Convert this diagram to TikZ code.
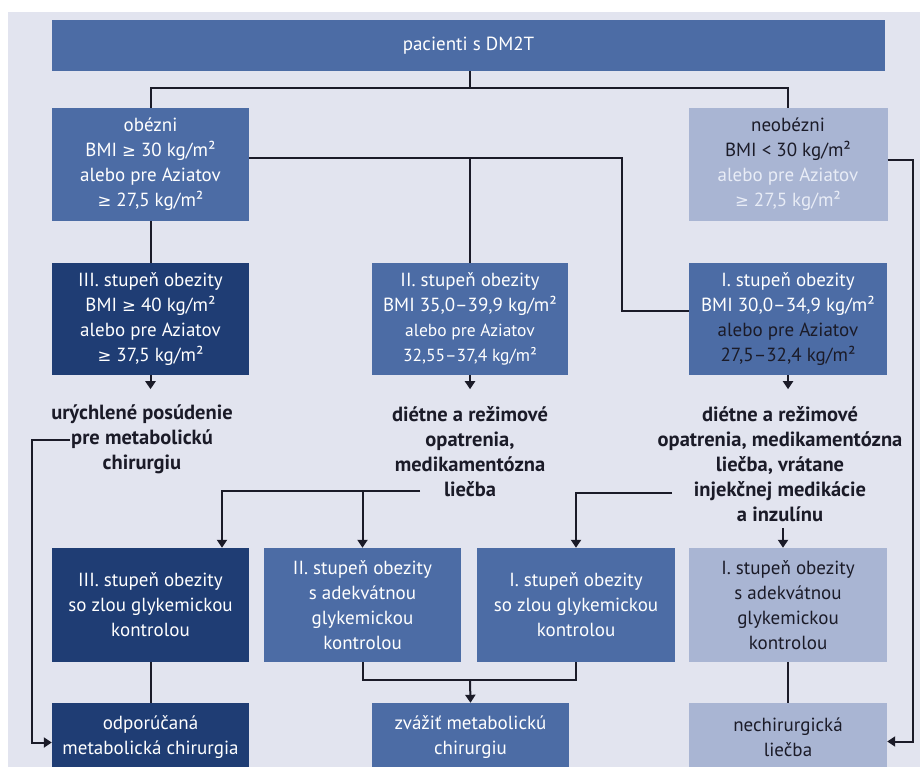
\documentclass[tikz,border=0pt]{standalone}
\usepackage{fontspec}
\setmainfont{PT Sans}
\newfontfamily\symf{DejaVu Sans}
\newcommand\mygeq{{\symf\fontsize{16.5}{16.5}\selectfont ≥}}
\usetikzlibrary{arrows.meta}
\definecolor{lav}{HTML}{E2E4EF}
\definecolor{midblue}{HTML}{4C6CA5}
\definecolor{navy}{HTML}{1F3D74}
\definecolor{lightb}{HTML}{A9B5D3}
\definecolor{darktxt}{HTML}{1B1B28}
\definecolor{paletxt}{HTML}{E8ECF6}
\tikzset{
  box/.style={inner sep=0pt, align=center, minimum width=197pt, minimum height=113pt,
              font=\fontsize{19}{25}\selectfont},
  midbox/.style={box, fill=midblue, text=white},
  navybox/.style={box, fill=navy, text=white},
  lightbox/.style={box, fill=lightb, text=darktxt},
  txt/.style={inner sep=0pt, align=center, text=darktxt, font=\bfseries\fontsize{20.5}{25}\selectfont},
  conn/.style={draw=darktxt, line width=2pt},
  arr/.style={conn, -{Triangle[width=10pt,length=8pt]}},
}
\begin{document}
\begin{tikzpicture}[x=1pt,y=-1pt]
\useasboundingbox (0,0) rectangle (920,767);
\fill[white] (0,0) rectangle (920,767);
\fill[lav] (8,12) rectangle (920,767);

% row 1
\node[midbox, minimum width=833pt, minimum height=51pt] (top) at (468.5,45.5) {pacienti s DM2T};

% row 2
\node[midbox] (ob) at (150.5,164.5) {obézni\\BMI \mygeq{} 30 kg/m²\\alebo pre Aziatov\\\mygeq{} 27,5 kg/m²};
\node[lightbox, minimum width=199pt] (neob) at (788,164.5) {neobézni\\BMI < 30 kg/m²\\\textcolor{paletxt}{alebo pre Aziatov}\\\textcolor{paletxt}{\mygeq{} 27,5 kg/m²}};

% row 3
\node[navybox, minimum height=112pt] (III) at (150.5,319) {III. stupeň obezity\\BMI \mygeq{} 40 kg/m²\\alebo pre Aziatov\\\mygeq{} 37,5 kg/m²};
\node[midbox, minimum width=196pt, minimum height=112pt] (II) at (470,319) {II. stupeň obezity\\BMI 35,0–39,9 kg/m²\\{\fontsize{17.5}{25}\selectfont alebo pre Aziatov}\\{\fontsize{17.5}{25}\selectfont 32,55–37,4 kg/m²}};
\node[midbox, minimum width=198pt, minimum height=112pt] (I) at (788,319) {I. stupeň obezity\\BMI 30,0–34,9 kg/m²\\\textcolor{darktxt}{alebo pre Aziatov}\\\textcolor{darktxt}{27,5–32,4 kg/m²}};

% texts
\node[txt] (u) at (142,439) {urýchlené posúdenie\\pre metabolickú\\chirurgiu};
\node[txt] (d2) at (470,451.5) {diétne a režimové\\opatrenia,\\medikamentózna\\liečba};
\node[txt] (d1) at (780,464) {diétne a režimové\\opatrenia, medikamentózna\\liečba, vrátane\\injekčnej medikácie\\a inzulínu};

% row 4
\node[navybox, minimum height=114pt] (IIIz) at (150.5,605) {III. stupeň obezity\\so zlou glykemickou\\kontrolou};
\node[midbox, minimum height=114pt] (IIa) at (362.5,605) {II. stupeň obezity\\s adekvátnou\\glykemickou\\kontrolou};
\node[midbox, minimum width=198pt, minimum height=114pt] (Iz) at (576,605) {I. stupeň obezity\\so zlou glykemickou\\kontrolou};
\node[lightbox, minimum width=198pt, minimum height=114pt] (Ia) at (788,605) {I. stupeň obezity\\s adekvátnou\\glykemickou\\kontrolou};

% row 5
\node[navybox, minimum height=69pt] (odp) at (150.5,737.5) {odporúčaná\\metabolická chirurgia};
\node[midbox, minimum height=69pt] (zv) at (470.5,737.5) {zvážiť metabolickú\\chirurgiu};
\node[lightbox, minimum width=198pt, minimum height=69pt] (nech) at (788,737.5) {nechirurgická\\liečba};

% junction coordinates
\coordinate (j1) at (470,88);
\coordinate (j2) at (622,158);
\coordinate (j3) at (622,311);
\coordinate (j4) at (913,160);
\coordinate (u1) at (70,440);
\coordinate (j5) at (32,440);
\coordinate (l1) at (420,491);
\coordinate (l2) at (222,491);
\coordinate (i1) at (672,493);
\coordinate (j6) at (470,680);

% connectors
\draw[conn] (top.south -| j1) -- (j1);
\draw[conn] (ob.north) -- (ob.north |- j1) -- (neob.north |- j1) -- (neob.north);
\draw[conn] (ob.south) -- (III.north);
\draw[conn] (ob.east |- j2) -- (j2) -- (j3) -- (I.west |- j3);
\draw[conn] (II.north |- j2) -- (II.north);
\draw[arr] (neob.east |- j4) -- (j4) |- ([yshift=-4pt]nech.east);

\draw[arr] (III.south) -- ++(0,14);
\draw[arr] (II.south) -- ++(0,14);
\draw[arr] (I.south) -- ++(0,14);

\draw[arr] (u1) -- (j5) |- ([yshift=-5pt]odp.west);
\draw[arr] (l1) -- (l2) -- (l2 |- IIIz.north);
\draw[arr] (IIa.north |- l1) -- (IIa.north);
\draw[arr] (i1) -| (Iz.north);
\draw[arr] ([shift={(-5pt,20pt)}]Ia.north) -- ([xshift=-5pt]Ia.north);

\draw[conn] (IIIz.south) -- (odp.north);
\draw[conn] (IIa.south) |- (j6) -| (Iz.south);
\draw[arr] (j6) -- (zv.north);
\draw[conn] (Ia.south) -- (nech.north);
\end{tikzpicture}
\end{document}
